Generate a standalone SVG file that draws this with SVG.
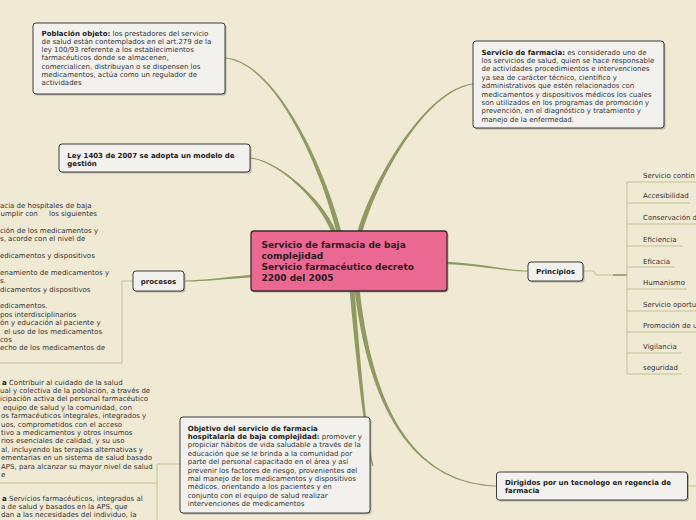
<svg xmlns="http://www.w3.org/2000/svg" width="696" height="520" viewBox="0 0 696 520">
<style>
.t{font-family:"DejaVu Sans",Verdana,sans-serif;font-size:7px;fill:#333}
.b{font-weight:bold;fill:#222}
.ct{font-family:"DejaVu Sans",Verdana,sans-serif;font-size:9px;font-weight:bold;fill:#2a1a20}
.box{fill:#f2f1ed;stroke:#3c3c3c;stroke-width:1}
.sh{fill:#7d7d72;opacity:.5}
.conn{fill:#8d9b62}
.thin{fill:none;stroke:#bfc397;stroke-width:1}
</style>
<rect width="696" height="520" fill="#f0e9d3"/>
<g id="connectors">
<path class="conn" d="M341.4,231.4 C324,164.5 275.1,61 225,57.5 L225,58.5 C274.9,63 320,165.5 336.6,232.6 Z"/>
<path class="conn" d="M336.1,231.1 C319.7,194.3 275,159.2 250,157.5 L250,158.5 C275,160.8 316.3,195.7 331.9,232.9 Z"/>
<path class="conn" d="M362.4,232.7 C376.9,180.6 425.1,91 473.1,84.5 L472.9,83.5 C424.9,89 373.1,179.4 357.6,231.3 Z"/>
<path class="conn" d="M252,274.8 C225,277.1 205,280.4 184,280.5 L184,281.5 C205,281.6 225,278.9 252,277.2 Z"/>
<path class="conn" d="M445,261.8 C480,263 505,270.4 528,270.5 L528,271.5 C505,271.6 480,265 445,264.2 Z"/>
<path class="conn" d="M349.5,289.2 C356,360.2 365,440.3 372.5,466.1 L373.5,465.9 C367,439.7 360,359.8 354.5,288.8 Z"/>
<path class="conn" d="M354.5,289.3 C370,420.2 420,485 497,486.5 L497,485.5 C420,483 374,419.8 359.5,288.7 Z"/>
<path class="thin" d="M583,271 H594 L596,275 H627"/>
<path d="M613,275 H627" stroke="#8d9b62" stroke-width="1.5" fill="none"/>
<path class="thin" d="M627,182 V374"/>
<path class="thin" d="M627,182 H696 M627,203 H690 M627,224 H696 M627,246 H683 M627,267 H675 M627,289 H687 M627,311 H696 M627,332 H696 M627,353 H682 M627,374 H682"/>
<path class="thin" d="M133,281 H122 V363 H0"/>
<path class="thin" d="M180,464 H157 V520 M157,483 H0"/>
<path class="thin" d="M687,486 H696"/>
</g>
<g id="n-poblacion">
<rect class="sh" x="34.5" y="24.5" width="192" height="71" rx="3"/>
<rect class="box" x="33" y="23" width="192" height="71" rx="3"/>
<text class="t" x="41.5"><tspan x="41.5" y="35.8"><tspan class="b">Población objeto:</tspan> los prestadores del servicio</tspan><tspan x="41.5" y="44">de salud están contemplados en el art.279 de la</tspan><tspan x="41.5" y="52.2">ley 100/93 referente a los establecimientos</tspan><tspan x="41.5" y="60.4">farmacéuticos donde se almacenen,</tspan><tspan x="41.5" y="68.6">comercialicen, distribuyan o se dispensen los</tspan><tspan x="41.5" y="76.8">medicamentos, actúa como un regulador de</tspan><tspan x="41.5" y="85">actividades</tspan></text>
</g>
<g id="n-servicio">
<rect class="sh" x="474.5" y="42.5" width="191" height="87" rx="3"/>
<rect class="box" x="473" y="41" width="191" height="87" rx="3"/>
<text class="t"><tspan x="481.5" y="54.5"><tspan class="b">Servicio de farmacia:</tspan> es considerado uno de</tspan><tspan x="481.5" y="62.9">los servicios de salud, quien se hace responsable</tspan><tspan x="481.5" y="71.3">de actividades procedimientos e intervenciones</tspan><tspan x="481.5" y="79.7">ya sea de carácter técnico, científico y</tspan><tspan x="481.5" y="88.1">administrativos que estén relacionados con</tspan><tspan x="481.5" y="96.5">medicamentos y dispositivos médicos los cuales</tspan><tspan x="481.5" y="104.9">son utilizados en los programas de promoción y</tspan><tspan x="481.5" y="113.3">prevención, en el diagnóstico y tratamiento y</tspan><tspan x="481.5" y="121.7">manejo de la enfermedad.</tspan></text>
</g>
<g id="n-ley">
<rect class="sh" x="60.5" y="145.5" width="191" height="28" rx="3"/>
<rect class="box" x="59" y="144" width="191" height="28" rx="3"/>
<text class="t b"><tspan x="67.3" y="157.5">Ley 1403 de 2007 se adopta un modelo de</tspan><tspan x="67.3" y="165.8">gestión</tspan></text>
</g>
<g id="n-center">
<rect class="sh" x="252.5" y="232.5" width="196" height="60" rx="3"/>
<rect x="251" y="231" width="196" height="60" rx="3" fill="#ea6892" stroke="#3a2a2e" stroke-width="1.3"/>
<text class="ct"><tspan x="261.5" y="248.3">Servicio de farmacia de baja</tspan><tspan x="261.5" y="259.2">complejidad</tspan><tspan x="261.5" y="270.1">Servicio farmacéutico decreto</tspan><tspan x="261.5" y="281">2200 del 2005</tspan></text>
</g>
<g id="n-procesos">
<rect class="sh" x="134.5" y="272.5" width="51" height="20" rx="3"/>
<rect class="box" x="133" y="271" width="51" height="20" rx="3"/>
<text class="t b" x="158.5" y="284" text-anchor="middle">procesos</text>
</g>
<g id="n-principios">
<rect class="sh" x="529.5" y="263.5" width="55" height="19" rx="3"/>
<rect class="box" x="528" y="262" width="55" height="19" rx="3"/>
<text class="t b" x="555.5" y="274.2" text-anchor="middle">Principios</text>
</g>
<g id="n-procesos-text">
<text class="t"><tspan x="0" y="207.5">acia de hospitales de baja</tspan><tspan x="0.5" y="215.9">umplir con</tspan><tspan x="49" y="215.9">los siguientes</tspan><tspan x="0" y="232.7">ción de los medicamentos y</tspan><tspan x="0" y="241.1">s, acorde con el nivel de</tspan><tspan x="0" y="257.9">edicamentos y dispositivos</tspan><tspan x="0" y="274.7">enamiento de medicamentos y</tspan><tspan x="0" y="283.1">s.</tspan><tspan x="0" y="291.5">dicamentos y dispositivos</tspan><tspan x="0" y="308.3">edicamentos.</tspan><tspan x="0" y="316.7">pos interdisciplinarios</tspan><tspan x="0" y="325.1">ón y educación al paciente y</tspan><tspan x="4" y="333.5">el uso de los medicamentos</tspan><tspan x="0" y="341.9">cos</tspan><tspan x="0" y="350.3">echo de los medicamentos de</tspan></text>
</g>
<g id="n-mision">
<text class="t"><tspan x="2" y="384.5"><tspan class="b">a</tspan> Contribuir al cuidado de la salud</tspan><tspan x="0" y="392.9">ual y colectiva de la población, a través de</tspan><tspan x="0" y="401.3">icipación activa del personal farmacéutico</tspan><tspan x="3" y="409.7">equipo de salud y la comunidad, con</tspan><tspan x="1" y="418.1">os farmacéuticos integrales, integrados y</tspan><tspan x="1" y="426.5">uos, comprometidos con el acceso</tspan><tspan x="1" y="434.9">tivo a medicamentos y otros insumos</tspan><tspan x="1" y="443.3">rios esenciales de calidad, y su uso</tspan><tspan x="1" y="451.7">al, incluyendo las terapias alternativas y</tspan><tspan x="1" y="460.1">ementarias en un sistema de salud basado</tspan><tspan x="1" y="468.5">APS, para alcanzar su mayor nivel de salud</tspan><tspan x="1" y="476.9">e</tspan></text>
</g>
<g id="n-vision">
<text class="t"><tspan x="2" y="500.5"><tspan class="b">a</tspan> Servicios farmacéuticos, integrados al</tspan><tspan x="1" y="508.9">a de salud y basados en la APS, que</tspan><tspan x="1" y="517.3">dan a las necesidades del individuo, la</tspan></text>
</g>
<g id="n-objetivo">
<rect class="sh" x="181.5" y="418.5" width="190" height="96" rx="3"/>
<rect class="box" x="180" y="417" width="190" height="96" rx="3"/>
<text class="t"><tspan x="187.7" y="430.5" class="b">Objetivo del servicio de farmacia</tspan><tspan x="187.7" y="438.9"><tspan class="b">hospitalaria de baja complejidad:</tspan> promover y</tspan><tspan x="187.7" y="447.3">propiciar hábitos de vida saludable a través de la</tspan><tspan x="187.7" y="455.7">educación que se le brinda a la comunidad por</tspan><tspan x="187.7" y="464.1">parte del personal capacitado en el área y así</tspan><tspan x="187.7" y="472.5">prevenir los factores de riesgo, provenientes del</tspan><tspan x="187.7" y="480.9">mal manejo de los medicamentos y dispositivos</tspan><tspan x="187.7" y="489.3">médicos, orientando a los pacientes y en</tspan><tspan x="187.7" y="497.7">conjunto con el equipo de salud realizar</tspan><tspan x="187.7" y="506.1">intervenciones de medicamentos</tspan></text>
</g>
<g id="n-dirigidos">
<rect class="sh" x="498" y="473.5" width="191" height="28" rx="3"/>
<rect class="box" x="496.5" y="472" width="191" height="28" rx="3"/>
<text class="t b"><tspan x="505" y="484.8">Dirigidos por un tecnologo en regencia de</tspan><tspan x="505" y="492.8">farmacia</tspan></text>
</g>
<g id="n-principios-list">
<text class="t"><tspan x="643" y="177.5">Servicio contin</tspan><tspan x="643" y="198">Accesibilidad</tspan><tspan x="643" y="219.5">Conservación d</tspan><tspan x="643" y="241.5">Eficiencia</tspan><tspan x="643" y="263.5">Eficacia</tspan><tspan x="643" y="284.5">Humanismo</tspan><tspan x="643" y="306.5">Servicio oportu</tspan><tspan x="643" y="327.5">Promoción de u</tspan><tspan x="643" y="348.5">Vigilancia</tspan><tspan x="643" y="369.5">seguridad</tspan></text>
</g>
</svg>
